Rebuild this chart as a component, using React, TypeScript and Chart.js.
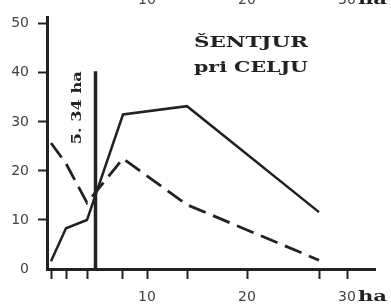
import React, { useEffect, useRef } from "react";
import { Chart, registerables } from "chart.js";

Chart.register(...registerables);

// ---- data ----
const X_POINTS = [0.4, 1.9, 4.0, 7.6, 14, 27.2];
const SOLID_VALUES = [1.6, 8.3, 10, 31.5, 33.2, 11.6];
const DASHED_VALUES = [25.7, 21.5, 13.5, 22.5, 13.1, 1.8];
const X_TICKS = [0.4, 1.9, 4.0, 7.5, 10, 14, 20, 27.2, 30];
const X_LABELED = [10, 20, 30];
const Y_TICKS = [0, 10, 20, 30, 40, 50];
const MARKER_X = 4.85;
const MARKER_TOP = 40.3;
const MARKER_LABEL = "5. 34 ha";
const TITLE_LINES = ["ŠENTJUR", "pri CELJU"];
const X_UNIT = "ha";

const INK = "#222";
const GRAY = "#444";

function fitText(ctx: CanvasRenderingContext2D, text: string, x: number, y: number, width: number) {
  const w = ctx.measureText(text).width;
  ctx.save();
  ctx.translate(x, y);
  ctx.scale(width / w, 1);
  ctx.fillText(text, 0, 0);
  ctx.restore();
}

const decorPlugin = {
  id: "decor",
  afterDraw(chart: any) {
    const ctx: CanvasRenderingContext2D = chart.ctx;
    const xs = chart.scales.x;
    const ys = chart.scales.y;
    ctx.save();
    ctx.fillStyle = INK;
    ctx.textAlign = "left";
    ctx.textBaseline = "alphabetic";
    // title
    ctx.font = 'bold 15px "DejaVu Serif"';
    fitText(ctx, TITLE_LINES[0], 194, 47, 114);
    fitText(ctx, TITLE_LINES[1], 194, 72, 114);

    // marker label (rotated)
    const mx = xs.getPixelForValue(MARKER_X) - 18;
    const my = ys.getPixelForValue(MARKER_TOP);
    ctx.save();
    ctx.translate(mx, my);
    ctx.rotate(-Math.PI / 2);
    ctx.font = 'bold 13px "DejaVu Serif"';
    const mw = ctx.measureText(MARKER_LABEL).width;
    ctx.scale(73 / mw, 1);
    ctx.textAlign = "right";
    ctx.textBaseline = "middle";
    ctx.fillText(MARKER_LABEL, 0, 0);
    ctx.restore();

    // unit after last x label
    ctx.font = 'bold 14px "DejaVu Serif"';
    ctx.textAlign = "left";
    ctx.textBaseline = "alphabetic";
    fitText(ctx, X_UNIT, xs.getPixelForValue(30) + 11, 301, 29);

    // cropped labels of the chart above
    ctx.fillStyle = GRAY;
    ctx.font = '14px "DejaVu Sans"';
    ctx.textAlign = "center";
    X_LABELED.forEach((v) => ctx.fillText(String(v), xs.getPixelForValue(v), 4));
    ctx.fillStyle = INK;
    ctx.font = 'bold 14px "DejaVu Serif"';
    ctx.textAlign = "left";
    fitText(ctx, X_UNIT, xs.getPixelForValue(30) + 11, 4, 29);
    ctx.restore();
  },
};

export default function App() {
  const ref = useRef<HTMLCanvasElement | null>(null);
  useEffect(() => {
    if (!ref.current) return;
    const chart = new Chart(ref.current, {
      type: "line",
      data: {
        datasets: [
          {
            data: X_POINTS.map((x, i) => ({ x, y: SOLID_VALUES[i] })),
            borderColor: INK,
            borderWidth: 2.5,
            pointRadius: 0,
            tension: 0,
          },
          {
            data: X_POINTS.map((x, i) => ({ x, y: DASHED_VALUES[i] })),
            borderColor: INK,
            borderWidth: 2.8,
            borderDash: [18, 8],
            pointRadius: 0,
            tension: 0,
          },
          {
            data: [
              { x: MARKER_X, y: 0 },
              { x: MARKER_X, y: MARKER_TOP },
            ],
            borderColor: INK,
            borderWidth: 3.5,
            pointRadius: 0,
          },
        ],
      },
      options: {
        responsive: false,
        animation: false,
        devicePixelRatio: 1,
        layout: { padding: { top: 15, right: 16, left: 0, bottom: 0 } },
        plugins: { legend: { display: false }, tooltip: { enabled: false }, title: { display: false } },
        scales: {
          x: {
            type: "linear",
            min: 0,
            max: 32.8,
            afterBuildTicks: (s: any) => {
              s.ticks = X_TICKS.map((v) => ({ value: v }));
            },
            afterFit: (s: any) => {
              s.height = 36;
            },
            ticks: {
              autoSkip: false,
              maxRotation: 0,
              padding: 10,
              color: GRAY,
              font: { family: "DejaVu Sans", size: 14 },
              callback: (v: any) => (X_LABELED.includes(Number(v)) ? String(v) : ""),
            },
            grid: { drawOnChartArea: false, drawTicks: true, tickLength: 10, tickWidth: 2, tickColor: INK },
            border: { display: true, width: 3, color: INK },
          },
          y: {
            type: "linear",
            min: 0,
            max: 51.3,
            afterBuildTicks: (s: any) => {
              s.ticks = Y_TICKS.map((v) => ({ value: v }));
            },
            afterFit: (s: any) => {
              s.width = 47;
            },
            ticks: {
              padding: 9,
              color: GRAY,
              font: { family: "DejaVu Sans", size: 14 },
            },
            grid: {
              drawOnChartArea: false,
              drawTicks: true,
              tickLength: 9,
              tickWidth: 2,
              tickColor: (c: any) => (c.tick && c.tick.value === 0 ? "rgba(0,0,0,0)" : INK),
            },
            border: { display: true, width: 3, color: INK },
          },
        },
      },
      plugins: [decorPlugin],
    } as any);
    return () => chart.destroy();
  }, []);
  return (
    <div style={{ position: "absolute", left: 0, top: 0, width: 391, height: 305, background: "#fff" }}>
      <canvas ref={ref} width={391} height={305} style={{ width: 391, height: 305 }} />
    </div>
  );
}
